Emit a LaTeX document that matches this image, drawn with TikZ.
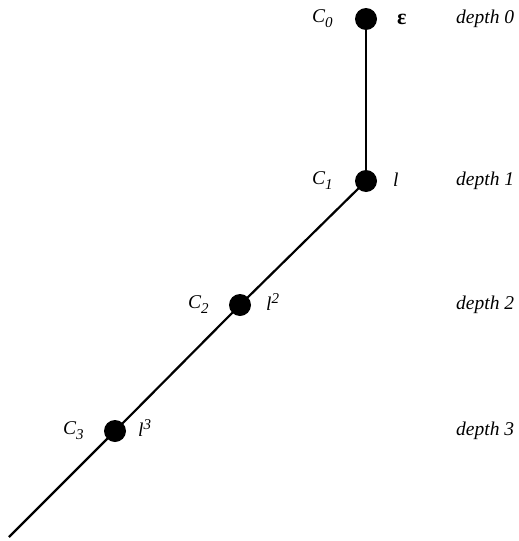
\documentclass[tikz,border=0pt]{standalone}
\usepackage{fontspec}
\setmainfont{Liberation Serif}
\begin{document}
\begin{tikzpicture}[x=1pt,y=-1pt,
  dot/.style={circle,fill=black,inner sep=0pt,minimum size=22pt},
  lab/.style={font=\fontsize{19.5}{22}\selectfont\itshape,inner sep=0pt,anchor=west},
  edge/.style={line width=2.2pt}]
\useasboundingbox (0,0) rectangle (519,541);
\node[dot] (c0) at (366,19) {};
\node[dot] (c1) at (366,181) {};
\node[dot] (c2) at (240,305) {};
\node[dot] (c3) at (115,431) {};
\coordinate (end) at (9,537);
\draw[edge] (c0.center) -- (c1.center);
\draw[edge] (c1.center) -- (c2.center) -- (c3.center) -- (end);
\node[lab] (n0) at (312,19) {C\raisebox{-5pt}{\fontsize{15}{17}\selectfont 0}};
\node[lab] (n1) at (312,181) {C\raisebox{-5pt}{\fontsize{15}{17}\selectfont 1}};
\node[lab] (n2) at (188,305) {C\raisebox{-5pt}{\fontsize{15}{17}\selectfont 2}};
\node[lab] (n3) at (63,431) {C\raisebox{-5pt}{\fontsize{15}{17}\selectfont 3}};
\node[lab,font=\fontsize{22}{24}\selectfont\bfseries] (e0) at (397,19) {ε};
\node[lab] (e1) at (393,180) {l};
\node[lab] (e2) at (266,302) {l\raisebox{7pt}{\fontsize{15}{17}\selectfont 2}};
\node[lab] (e3) at (138,428) {l\raisebox{7pt}{\fontsize{15}{17}\selectfont 3}};
\node[lab] (d0) at (456,19) {depth 0};
\node[lab] (d1) at (456,181) {depth 1};
\node[lab] (d2) at (456,305) {depth 2};
\node[lab] (d3) at (456,431) {depth 3};
\end{tikzpicture}
\end{document}
